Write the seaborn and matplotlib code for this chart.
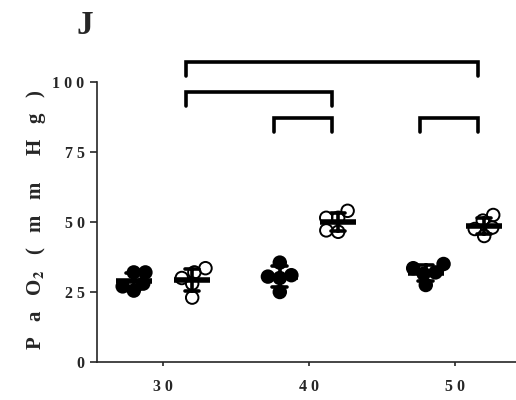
import numpy as np
import pandas as pd
import matplotlib
matplotlib.use("Agg")
import matplotlib.pyplot as plt
import seaborn as sns

# ---- data ----
categories = ["30", "40", "50"]
groups = ["closed", "open"]
closed_30 = [32, 28, 25.5, 27, 32]
open_30 = [32, 33.5, 28, 23, 30]
closed_40 = [35.5, 30, 25, 30.5, 31]
open_40 = [51.5, 54, 51.5, 47, 46.5]
closed_50 = [33.5, 35, 31.5, 27.5, 32]
open_50 = [50.5, 52.5, 48, 45, 47.5]
y_ticks = [0, 25, 50, 75, 100]
y_tick_labels = ["0", "2 5", "5 0", "7 5", "1 0 0"]
x_tick_labels = ["3 0", "4 0", "5 0"]
# brackets: (category_a, group_a, category_b, group_b, height)
brackets = [("30", "open", "50", "open", 107),
            ("30", "open", "40", "open", 96.5),
            ("40", "closed", "40", "open", 87),
            ("50", "closed", "50", "open", 87)]

rows = []
for cat, cl, op in zip(categories, [closed_30, closed_40, closed_50],
                       [open_30, open_40, open_50]):
    rows += [(cat, "closed", v) for v in cl]
    rows += [(cat, "open", v) for v in op]
df = pd.DataFrame(rows, columns=["fio2", "group", "pao2"])

sns.set_style("ticks")
plt.rcParams["font.family"] = ["Liberation Serif", "DejaVu Serif"]
plt.rcParams["font.weight"] = "bold"
plt.rcParams["mathtext.fontset"] = "stix"

fig = plt.figure(figsize=(5.16, 4.0), dpi=100)
ax = fig.add_axes([0.188, 0.095, 0.812, 0.77])
ax.set_xlim(-0.452, 2.418)
ax.set_ylim(0, 110)

pal = {"closed": "black", "open": "white"}
sns.swarmplot(data=df, x="fio2", y="pao2", hue="group", order=categories,
              hue_order=groups, dodge=True, palette=pal, size=6.8,
              edgecolor="black", linewidth=1.4, ax=ax, legend=False)
ax.set_xlim(-0.452, 2.418)
ax.set_ylim(0, 110)
# lay out the swarm compactly, then freeze positions and enlarge the markers
fig.canvas.draw()
for coll in list(ax.collections):
    if "draw" in coll.__dict__:
        del coll.draw
    coll.set_sizes([9.0 ** 2])
    fc = coll.get_facecolors()
    if len(fc) and np.allclose(fc[0][:3], 1.0):
        coll.set_facecolor("none")

sns.pointplot(data=df, x="fio2", y="pao2", hue="group", order=categories,
              hue_order=groups, dodge=0.4, palette={"closed": "black", "open": "black"},
              errorbar="sd", capsize=0.1, markers="_", linestyles="none",
              markersize=26, markeredgewidth=4.0,
              err_kws={"linewidth": 2.6}, ax=ax, legend=False)

# significance brackets
off = {"closed": -0.2, "open": 0.2}
for ca, ga, cb, gb, h in brackets:
    xa = categories.index(ca) + off[ga] - 0.04
    xb = categories.index(cb) + off[gb] - 0.04
    ax.plot([xa, xa, xb, xb], [h - 5, h, h, h - 5], color="black",
            lw=2.6, solid_joinstyle="miter", clip_on=False)

ax.set_xlim(-0.452, 2.418)
ax.set_ylim(0, 110)
ax.set_yticks(y_ticks)
ax.set_yticklabels(y_tick_labels, fontsize=11.5, fontweight="bold")
ax.set_xticks(range(len(categories)))
ax.set_xticklabels(x_tick_labels, fontsize=11.5, fontweight="bold")
ax.spines["left"].set_bounds(0, 100)
ax.spines["top"].set_visible(False)
ax.spines["right"].set_visible(False)
for s in ["left", "bottom"]:
    ax.spines[s].set_linewidth(1.2)
ax.tick_params(axis="y", length=5, width=1.2, pad=4)
ax.tick_params(axis="x", length=3, width=1.2, pad=9)
ax.set_xlabel("")
ax.set_ylabel("P   a   O$_{\\mathbf{2}}$   (   m   m     H   g   )", fontsize=15,
              fontweight="bold", labelpad=3)
ax.yaxis.label.set_y(0.46)

fig.text(0.148, 0.975, "J", fontsize=24, fontweight="bold", va="top")

fig.savefig("out.png", dpi=100)
